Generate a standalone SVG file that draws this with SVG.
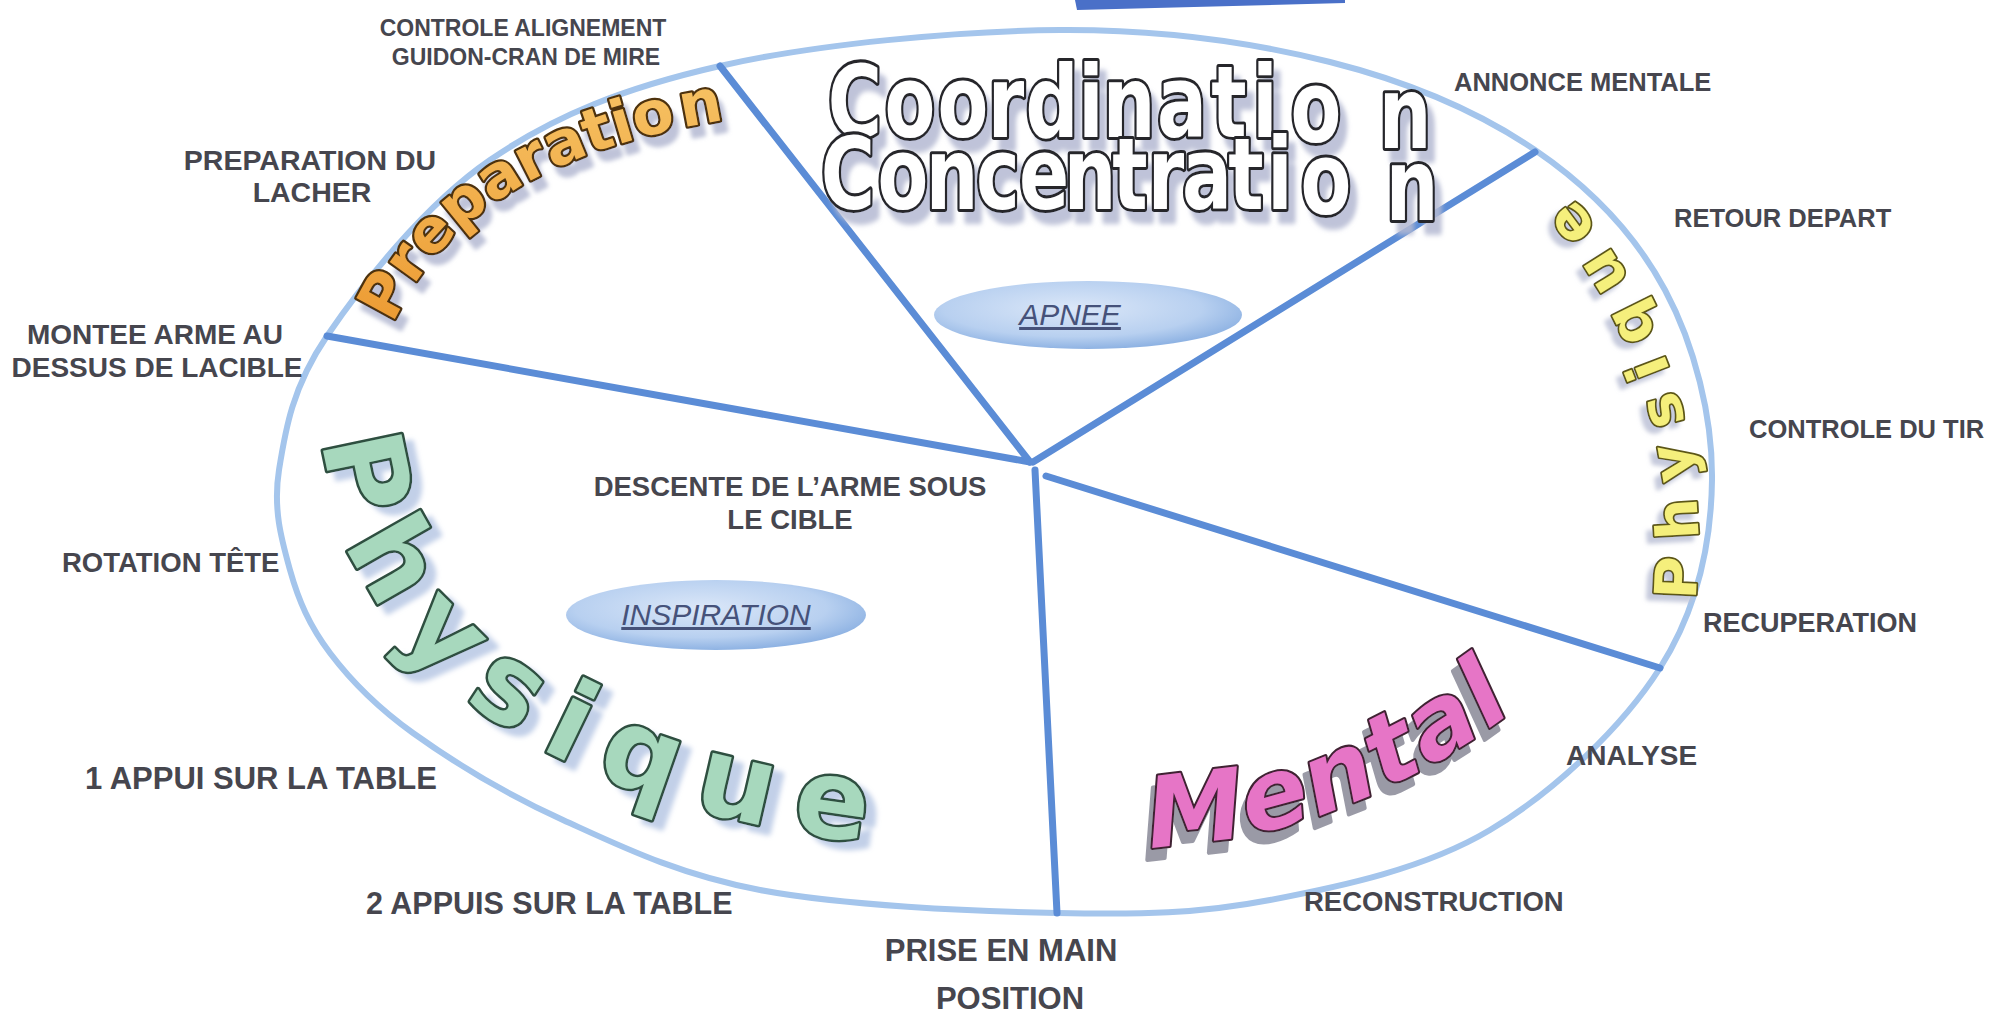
<svg xmlns="http://www.w3.org/2000/svg" width="1990" height="1015" viewBox="0 0 1990 1015">
<style>
.lbl{font-family:"Liberation Sans",Arial,sans-serif;font-weight:bold;font-size:26px;fill:#46464e}
.mid{text-anchor:middle}
.spoke{stroke:#5b8cd6;stroke-width:7;stroke-linecap:round;fill:none}
.phase{font-family:"Liberation Sans",Arial,sans-serif;font-style:italic;font-size:30px;fill:#46527a;text-decoration:underline;text-anchor:middle}
.wa{font-family:"DejaVu Sans",sans-serif;font-weight:bold;paint-order:stroke;stroke-linejoin:round}
</style>
<defs>
<radialGradient id="bubble" cx="45%" cy="40%" r="60%">
<stop offset="0" stop-color="#dbe7f8"/>
<stop offset="0.7" stop-color="#b8d0f0"/>
<stop offset="1" stop-color="#8fb3e3"/>
</radialGradient>
<linearGradient id="orange" x1="0" y1="0" x2="0" y2="1">
<stop offset="0" stop-color="#f7c466"/>
<stop offset="1" stop-color="#ec9a32"/>
</linearGradient>
<filter id="dropCoord" x="-10%" y="-20%" width="125%" height="160%">
<feGaussianBlur in="SourceAlpha" stdDeviation="2"/><feOffset dx="7" dy="9" result="b"/>
<feFlood flood-color="#b4b9d2" flood-opacity="0.85"/><feComposite in2="b" operator="in"/>
<feMerge><feMergeNode/><feMergeNode in="SourceGraphic"/></feMerge>
</filter>
<filter id="dropPrep" x="-10%" y="-10%" width="125%" height="130%">
<feGaussianBlur in="SourceAlpha" stdDeviation="2"/><feOffset dx="6" dy="10" result="b"/>
<feFlood flood-color="#b4b9d2" flood-opacity="0.85"/><feComposite in2="b" operator="in"/>
<feMerge><feMergeNode/><feMergeNode in="SourceGraphic"/></feMerge>
</filter>
<filter id="dropPhysL" x="-10%" y="-10%" width="125%" height="125%">
<feGaussianBlur in="SourceAlpha" stdDeviation="2.5"/><feOffset dx="10" dy="8" result="b"/>
<feFlood flood-color="#bccbe6" flood-opacity="0.9"/><feComposite in2="b" operator="in"/>
<feMerge><feMergeNode/><feMergeNode in="SourceGraphic"/></feMerge>
</filter>
<filter id="dropPhysR" x="-30%" y="-10%" width="150%" height="125%">
<feGaussianBlur in="SourceAlpha" stdDeviation="2"/><feOffset dx="-6" dy="6" result="b"/>
<feFlood flood-color="#bcc1d6" flood-opacity="0.85"/><feComposite in2="b" operator="in"/>
<feMerge><feMergeNode/><feMergeNode in="SourceGraphic"/></feMerge>
</filter>
<filter id="dropMental" x="-10%" y="-10%" width="125%" height="135%">
<feOffset in="SourceAlpha" dx="-5" dy="12" result="b"/>
<feFlood flood-color="#9a9aa6"/><feComposite in2="b" operator="in"/>
<feMerge><feMergeNode/><feMergeNode in="SourceGraphic"/></feMerge>
</filter>
<path id="pPrep" d="M 393 324 C 440 220, 545 135, 800 110"/>
<path id="pPhysL" d="M 325 440 C 335 640, 520 830, 980 852"/>
<path id="pPhysR" d="M 1695 600 C 1708 460, 1680 310, 1530 145"/>
<path id="pMental" d="M 1150 846 Q 1370 840 1570 665"/>
</defs>
<rect width="1990" height="1015" fill="#ffffff"/>
<polygon id="top-box" points="1075,0 1345,0 1345,3 1077,10" fill="#4a70c8"/>
<g id="cycle">
<path d="M279,470 C285.2,431 291.8,387.7 327,336 C362.2,284.3 424.5,205 490,160 C555.5,115 625,87.7 720,66 C815,44.3 958.3,30.7 1060,30 C1161.7,29.3 1250.8,42 1330,62 C1409.2,82 1479.2,112 1535,150 C1590.8,188 1635.5,235 1665,290 C1694.5,345 1712.8,417 1712,480 C1711.2,543 1697,609.7 1660,668 C1623,726.3 1555,791.3 1490,830 C1425,868.7 1342.2,886.2 1270,900 C1197.8,913.8 1142,914.7 1057,913 C972,911.3 842.3,905.5 760,890 C677.7,874.5 620.8,846.2 563,820 C505.2,793.8 451.8,760.8 413,733 C374.2,705.2 350.5,680.2 330,653 C309.5,625.8 298.5,600.5 290,570 C281.5,539.5 272.8,509 279,470 Z" fill="#ffffff" stroke="#a4c5ec" stroke-width="6"/>
</g>
<g id="connectors">
<line class="spoke" x1="327" y1="336" x2="1030" y2="462"/>
<line class="spoke" x1="720" y1="66" x2="1030" y2="462"/>
<line class="spoke" x1="1033" y1="462" x2="1535" y2="152"/>
<line class="spoke" x1="1035" y1="470" x2="1057" y2="913"/>
<line class="spoke" x1="1046" y1="476" x2="1660" y2="668"/>
</g>
<g id="wordart-coordination">
<g transform="translate(0,137) scale(1,1.35)">
<text class="wa" font-size="74" text-anchor="middle" fill="#ffffff" stroke="#26262c" stroke-width="4.5" filter="url(#dropCoord)" x="855 910 963 1006 1052 1091 1129 1182 1229 1265 1316 1405" y="0 0 0 0 0 0 0 0 0 0 4 8">Coordination</text>
</g>
<g transform="translate(0,209) scale(1,1.35)">
<text class="wa" font-size="74" text-anchor="middle" fill="#ffffff" stroke="#26262c" stroke-width="4.5" filter="url(#dropCoord)" x="848 903 952 998 1044 1090 1130 1166 1207 1246 1280 1326 1412" y="0 0 0 0 0 0 0 0 0 0 0 4 8">Concentration</text>
</g>
</g>
<g id="wordart-preparation">
<text class="wa" font-size="60" fill="url(#orange)" stroke="#4e3210" stroke-width="4.5" filter="url(#dropPrep)"><textPath href="#pPrep">Preparatio<tspan dx="6">n</tspan></textPath></text>
</g>
<g id="wordart-physique-left">
<text class="wa" font-size="110" letter-spacing="24" fill="#a7d8bd" stroke="#2f4f40" stroke-width="5" filter="url(#dropPhysL)"><textPath href="#pPhysL">Physique</textPath></text>
</g>
<g id="wordart-physique-right">
<text class="wa" font-size="58" letter-spacing="19" fill="#f5ef7c" stroke="#5c5618" stroke-width="3.5" filter="url(#dropPhysR)"><textPath href="#pPhysR">Physique</textPath></text>
</g>
<g id="wordart-mental">
<text class="wa" font-size="98" font-style="italic" letter-spacing="3" fill="#e674c6" stroke="#3f2233" stroke-width="4" filter="url(#dropMental)"><textPath href="#pMental">Mental</textPath></text>
</g>
<g id="node-apnee">
<ellipse cx="1088" cy="315" rx="154" ry="34" fill="url(#bubble)"/>
<text class="phase" x="1070" y="325">APNEE</text>
</g>
<g id="node-inspiration">
<ellipse cx="716" cy="615" rx="150" ry="35" fill="url(#bubble)"/>
<text class="phase" x="716" y="625">INSPIRATION</text>
</g>
<g id="label-controle-alignement"><text class="lbl mid" x="523" y="36" style="font-size:23px">CONTROLE ALIGNEMENT</text><text class="lbl mid" x="526" y="65" style="font-size:23px">GUIDON-CRAN DE MIRE</text></g>
<g id="label-preparation-lacher"><text class="lbl mid" x="310" y="170" style="font-size:28.5px">PREPARATION DU</text><text class="lbl mid" x="312" y="202" style="font-size:28.5px">LACHER</text></g>
<g id="label-montee"><text class="lbl mid" x="155" y="344" style="font-size:28px">MONTEE ARME AU</text><text class="lbl mid" x="157" y="377" style="font-size:28px">DESSUS DE LACIBLE</text></g>
<g id="label-annonce"><text class="lbl" x="1454" y="91" style="font-size:25.5px">ANNONCE MENTALE</text></g>
<g id="label-retour"><text class="lbl" x="1674" y="227" style="font-size:25.5px">RETOUR DEPART</text></g>
<g id="label-controle-tir"><text class="lbl" x="1749" y="438" style="font-size:25.5px">CONTROLE DU TIR</text></g>
<g id="label-recuperation"><text class="lbl" x="1703" y="632" style="font-size:27px">RECUPERATION</text></g>
<g id="label-analyse"><text class="lbl" x="1566" y="765" style="font-size:28px">ANALYSE</text></g>
<g id="label-reconstruction"><text class="lbl" x="1304" y="911" style="font-size:27.5px">RECONSTRUCTION</text></g>
<g id="label-prise"><text class="lbl mid" x="1001" y="961" style="font-size:31px">PRISE EN MAIN</text><text class="lbl mid" x="1010" y="1009" style="font-size:31px">POSITION</text></g>
<g id="label-2appuis"><text class="lbl" x="366" y="914" style="font-size:30.5px">2 APPUIS SUR LA TABLE</text></g>
<g id="label-1appui"><text class="lbl" x="85" y="789" style="font-size:31px">1 APPUI SUR LA TABLE</text></g>
<g id="label-rotation"><text class="lbl" x="62" y="572" style="font-size:27.5px">ROTATION TÊTE</text></g>
<g id="label-descente"><text class="lbl mid" x="790" y="496" style="font-size:27.5px">DESCENTE DE L’ARME SOUS</text><text class="lbl mid" x="790" y="529" style="font-size:27.5px">LE CIBLE</text></g>
</svg>
